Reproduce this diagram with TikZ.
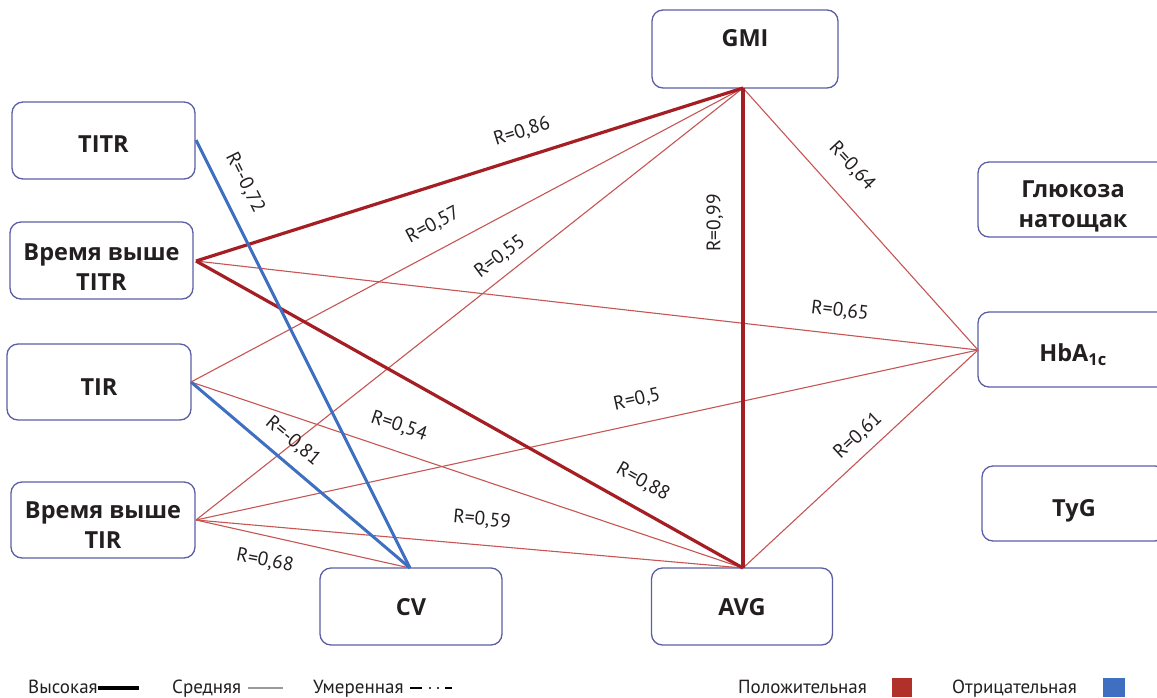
\documentclass[tikz,border=0pt]{standalone}
\usepackage{fontspec}
\setmainfont{PT Sans}
\newfontfamily\boxfont{Open Sans}
\definecolor{boxc}{HTML}{5B5EA4}
\definecolor{redthick}{HTML}{A51E24}
\definecolor{redthin}{HTML}{C65553}
\definecolor{bluel}{HTML}{3E6FC1}
\definecolor{legred}{HTML}{B2302A}
\definecolor{txt}{HTML}{231F20}
\begin{document}
\begin{tikzpicture}[x=1pt,y=-1pt,
  box/.style={draw=boxc, line width=1.3pt, rounded corners=11pt, fill=white,
    minimum width=183pt, minimum height=77pt, inner sep=0pt, align=center,
    text depth=0pt, text=txt, font=\boxfont\fontsize{23.5}{30}\selectfont\bfseries},
  lab/.style={text=txt, font=\fontsize{19.5}{21}\selectfont, inner sep=0pt},
  legt/.style={text=txt, font=\fontsize{19}{20}\selectfont, inner sep=0pt, anchor=base west},
  hi/.style={draw=redthick, line width=3.2pt},
  mid/.style={draw=redthin, line width=1.1pt},
  neg/.style={draw=bluel, line width=3pt}]
\useasboundingbox (0,0) rectangle (1157,697);

% nodes
\node[box, text height=23.8pt] (titr) at (103.5,140.5) {TITR};
\node[box, text height=60.8pt] (vtitr) at (101.5,260.5) {Время выше\\TITR};
\node[box, minimum width=184pt, minimum height=76pt, text height=27.8pt] (tir) at (99,382) {TIR};
\node[box, minimum width=184pt, minimum height=76pt, text height=56.8pt] (vtir) at (103,520) {Время выше\\TIR};
\node[box, minimum width=182pt] (cv) at (411,606.5) {CV};
\node[box, minimum width=181pt] (avg) at (742,606.5) {AVG};
\node[box, minimum width=186pt, minimum height=78pt, text height=16.8pt, text depth=21pt] (gmi) at (745,49) {GMI};
\node[box, minimum width=190pt, minimum height=75pt, text height=55.8pt] (glu) at (1073,199.5) {Глюкоза\\натощак};
\node[box, minimum width=190pt, minimum height=75pt, text height=24.8pt] (hba) at (1073,349.5) {HbA\textsubscript{1c}};
\node[box, minimum width=184pt, minimum height=75pt, text height=25.8pt] (tyg) at (1074,503.5) {TyG};

% connectors
\coordinate (gs) at (743,88);
\coordinate (an) at (743,568);
\coordinate (cn) at (410,568);
\coordinate (hw) at (978,350);
\coordinate (te) at (196,140);
\coordinate (ve) at (196,261);
\coordinate (ie) at (191,382);
\coordinate (we) at (196,520);

\draw[mid] (ve) -- (hw);
\draw[mid] (ie) -- (gs);
\draw[mid] (ie) -- (an);
\draw[mid] (we) -- (gs);
\draw[mid] (we) -- (hw);
\draw[mid] (we) -- (an);
\draw[mid] (we) -- (cn);
\draw[mid] (gs) -- (hw);
\draw[mid] (an) -- (hw);
\draw[hi] (ve) -- (gs);
\draw[hi] (ve) -- (an);
\draw[hi] (gs) -- (an);
\draw[neg] (te) -- (cn);
\draw[neg] (ie) -- (cn);

% labels
\node[lab, rotate=-63.5] (l1) at (245,183) {R=-0,72};
\node[lab, rotate=17.4] (l2) at (522,132) {R=0,86};
\node[lab, rotate=28] (l3) at (433,225) {R=0,57};
\node[lab, rotate=37] (l4) at (500,257) {R=0,55};
\node[lab, rotate=90] (l5) at (715,223) {R=0,99};
\node[lab, rotate=-47] (l6) at (852,166) {R=0,64};
\node[lab, rotate=-6.6] (l7) at (840,311) {R=0,65};
\node[lab, rotate=12.3] (l8) at (637,400) {R=0,5};
\node[lab, rotate=-18.6] (l9) at (399,426) {R=0,54};
\node[lab, rotate=-40] (l10) at (293,441) {R=-0,81};
\node[lab, rotate=-29.3] (l11) at (643,482) {R=0,88};
\node[lab, rotate=-5] (l12) at (482,520) {R=0,59};
\node[lab, rotate=-11] (l13) at (265,561) {R=0,68};
\node[lab, rotate=43] (l14) at (858,436) {R=0,61};

% legend
\node[legt] (g1) at (28,693) {Высокая};
\draw[line width=4pt, black] (98,688) -- (139,688);
\node[legt] (g2) at (172,693) {Средняя};
\draw[line width=1.6pt, black!40] (248,688) -- (283,688);
\node[legt] (g3) at (313,693) {Умеренная};
\draw[line width=2.2pt, black] (410,688) -- (422,688);
\fill (430,688) circle (1.1pt);
\fill (438,688) circle (1.1pt);
\draw[line width=2.2pt, black] (445,688) -- (452,688);
\node[legt] (g4) at (738,693) {Положительная};
\fill[legred] (892,678) rectangle (912,697);
\node[legt] (g5) at (952,693) {Отрицательная};
\fill[bluel] (1103,678) rectangle (1125,697);
\end{tikzpicture}
\end{document}
